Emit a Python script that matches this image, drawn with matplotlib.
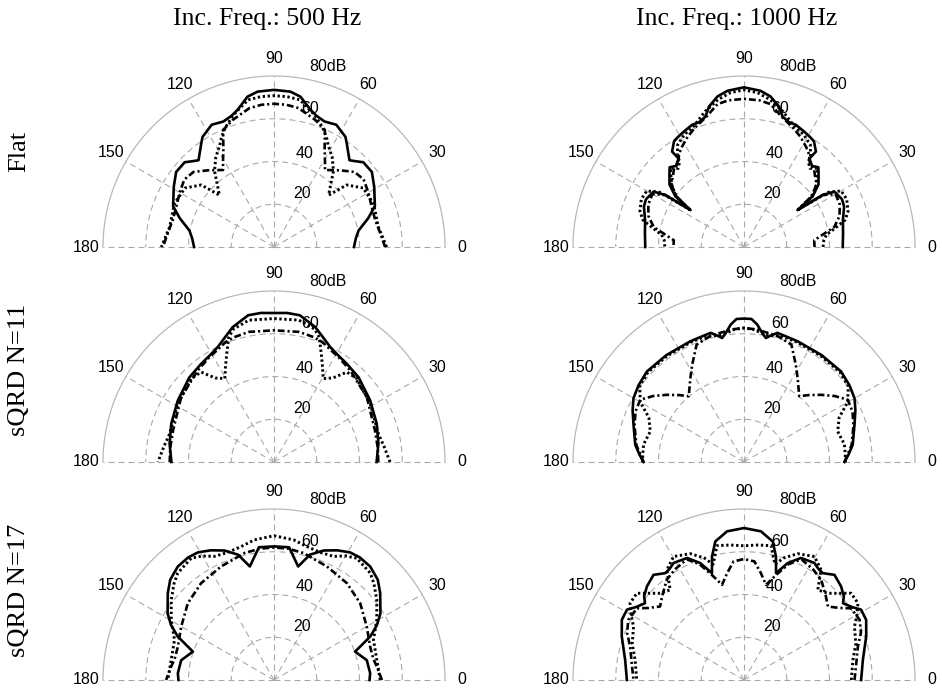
import numpy as np
import matplotlib.pyplot as plt

# Диаграммы рассеяния: угол (град) -> уровень (дБ)

col_titles = ['Inc. Freq.: 500 Hz', 'Inc. Freq.: 1000 Hz']
row_titles = ['Flat', 'sQRD N=11', 'sQRD N=17']

angle_ticks = [0, 30, 60, 90, 120, 150, 180]
ring_ticks = [20, 40, 60, 80]
ring_labels = ['20', '40', '60', '80dB']
# положения подписей колец (угол, радиус)
ring_label_pos = [(62.7, 28.3), (71.7, 46.2), (75.4, 67.0), (73.4, 88.0)]
r_max = 80

# ---- Flat, 500 Hz ----
flat_500_solid = [
    (0, 37.4), (6, 38.5), (11, 40.3), (17, 46.1), (22, 50.9), (31, 54.7),
    (37.5, 57.7), (43.5, 57.6), (47, 55), (49, 53.8), (51.5, 55.9), (55, 59.3),
    (57, 61.4), (63, 64.2), (68, 63.3), (72, 64.5), (75, 66.3), (80, 71.4),
    (84, 73.1), (90, 73.5),
    (96, 73.1), (100, 71.4), (105, 66.3), (108, 64.5), (112, 63.3), (117, 64.2),
    (123, 61.4), (125, 59.3), (128.5, 55.9), (131, 53.8), (133, 55), (136.5, 57.6),
    (142.5, 57.7), (149, 54.7), (158, 50.9), (163, 46.1), (169, 40.3), (174, 38.5),
    (180, 37.4),
]
flat_500_dot = [
    (0, 52.7), (11, 49.7), (23.5, 50.8), (33.5, 50), (40.5, 44.7), (43.5, 35.2),
    (52, 45.2), (57, 50), (62, 54), (64.5, 57), (68, 60.5), (73, 64.7), (80, 69.9),
    (85, 70.6), (90, 70.8),
    (95, 70.6), (100, 69.9), (107, 64.7), (112, 60.5), (115.5, 57), (118, 54),
    (123, 50), (128, 45.2), (136.5, 35.2), (139.5, 44.7), (146.5, 50),
    (156.5, 50.8), (169, 49.7), (180, 52.7),
]
flat_500_dashdot = [
    (0, 52), (8, 50), (15, 49), (23, 49.5), (30, 51), (37, 52.5), (43, 51.5),
    (49, 47.5), (56.5, 43.2), (59.5, 47), (62.5, 51.3), (66.5, 59.7), (72, 62.5),
    (80, 66), (85, 66.8), (90, 67),
    (95, 66.8), (100, 66), (108, 62.5), (113.5, 59.7), (117.5, 51.3), (120.5, 47),
    (123.5, 43.2), (131, 47.5), (137, 51.5), (143, 52.5), (150, 51), (157, 49.5),
    (165, 49), (172, 50), (180, 52),
]

# ---- Flat, 1000 Hz ----
flat_1000_solid = [
    (0, 46.2), (8, 46.8), (15, 47.9), (22, 50.5), (26, 51), (31.5, 49.6),
    (33.5, 44), (34.6, 30.5), (36.5, 40), (40, 45.5), (44, 48.5), (47, 51),
    (50, 49.5), (53.5, 51.5), (53, 55.9), (56.5, 59.3), (59, 60), (62.5, 60.9),
    (67, 62.1), (70, 62), (73.5, 63.6), (76, 67.7), (80, 71.5), (84, 73.5),
    (90, 74.7),
    (96, 73.5), (100, 71.5), (104, 67.7), (106.5, 63.6), (110, 62), (113, 62.1),
    (117.5, 60.9), (121, 60), (123.5, 59.3), (127, 55.9), (126.5, 51.5),
    (130, 49.5), (133, 51), (136, 48.5), (140, 45.5), (143.5, 40), (145.4, 30.5),
    (146.5, 44), (148.5, 49.6), (154, 51), (158, 50.5), (165, 47.9),
    (172, 46.8), (180, 46.2),
]
flat_1000_dot = [
    (0, 37), (5, 37.5), (8.5, 39), (12, 44), (15, 49), (19, 51.5), (25, 53),
    (30, 52.5), (33, 47), (34.6, 31), (36.5, 39), (40, 44), (44, 47.5),
    (47, 50.5), (50, 48), (53, 50), (54, 53), (57, 57), (62, 59.5), (67, 61),
    (74, 66), (80, 70), (85, 72.5), (90, 73.5),
    (95, 72.5), (100, 70), (106, 66), (113, 61), (118, 59.5), (123, 57),
    (126, 53), (127, 50), (130, 48), (133, 50.5), (136, 47.5), (140, 44),
    (143.5, 39), (145.4, 31), (147, 47), (150, 52.5), (155, 53), (161, 51.5),
    (165, 49), (168, 44), (171.5, 39), (175, 37.5), (180, 37),
]
flat_1000_dashdot = [
    (0, 33), (5.5, 33), (12.5, 43.3), (18, 47), (24, 49), (30, 49.5),
    (33.5, 44), (34.6, 30.5), (37, 40), (41, 45), (45, 47), (48, 49), (52, 50),
    (55, 53), (58, 55), (63, 58), (68, 60.5), (74, 63.5), (79.5, 68), (84, 69),
    (90, 69.3),
    (96, 69), (100.5, 68), (106, 63.5), (112, 60.5), (117, 58), (122, 55),
    (125, 53), (128, 50), (132, 49), (135, 47), (139, 45), (143, 40),
    (145.4, 30.5), (146.5, 44), (150, 49.5), (156, 49), (162, 47),
    (167.5, 43.3), (174.5, 33), (180, 33),
]

# ---- sQRD N=11, 500 Hz ----
qrd11_500_solid = [
    (0, 48), (10, 49.6), (20.5, 51.3), (32.5, 53.4), (45, 56), (53.5, 57.2),
    (60, 58.5), (64, 59.9), (69, 63), (73, 66), (80, 69.7), (85, 70), (90, 69.7),
    (95, 70), (100, 69.7), (107, 66), (111, 63), (116, 59.9), (120, 58.5),
    (126.5, 57.2), (135, 56), (147.5, 53.4), (159.5, 51.3), (170, 49.6), (180, 48),
]
qrd11_500_dot = [
    (0, 54.3), (8, 52), (15, 50.6), (31, 52.6), (45.5, 55), (51, 54.1), (55, 48),
    (59.5, 45.3), (63, 50), (66.5, 55.4), (70, 62), (73, 65), (80, 67.4),
    (90, 67.1),
    (100, 67.4), (107, 65), (110, 62), (113.5, 55.4), (117, 50), (120.5, 45.3),
    (125, 48), (129, 54.1), (134.5, 55), (149, 52.6), (165, 50.6), (172, 52),
    (180, 54.3),
]
qrd11_500_dashdot = [
    (0, 48.8), (8, 49), (17.5, 49.5), (35, 53), (50, 55.7), (58, 57.5), (64, 59),
    (68, 60.5), (72.5, 61.3), (79, 62), (90, 61.6),
    (101, 62), (107.5, 61.3), (112, 60.5), (116, 59), (122, 57.5), (130, 55.7),
    (145, 53), (162.5, 49.5), (172, 49), (180, 48.8),
]

# ---- sQRD N=11, 1000 Hz ----
qrd11_1000_solid = [
    (0, 47), (4, 49), (9, 51.5), (18.5, 54.5), (25, 57.5), (30, 59.7), (36, 61),
    (43, 62.1), (54, 61.8), (66, 61.8), (72, 62), (75.5, 62.4), (78, 60.5),
    (80, 58.9), (82, 61), (84.5, 64.6), (87, 67), (90, 67.1),
    (93, 67), (95.5, 64.6), (98, 61), (100, 58.9), (102, 60.5), (104.5, 62.4),
    (108, 62), (114, 61.8), (126, 61.8), (137, 62.1), (144, 61), (150, 59.7),
    (155, 57.5), (161.5, 54.5), (171, 51.5), (176, 49), (180, 47),
]
qrd11_1000_dot = [
    (0, 47.5), (5, 47.5), (10, 47.7), (18, 46.1), (25, 49.1), (30, 56),
    (36, 60.3), (43, 61.5), (54, 61.3), (66, 61.3), (73, 61.5), (78, 60.5),
    (82, 60.8), (86, 62.2), (90, 62.7),
    (94, 62.2), (98, 60.8), (102, 60.5), (107, 61.5), (114, 61.3), (126, 61.3),
    (137, 61.5), (144, 60.3), (150, 56), (155, 49.1), (162, 46.1), (170, 47.7),
    (175, 47.5), (180, 47.5),
]
qrd11_1000_dashdot = [
    (0, 47), (9, 51), (18.5, 54), (25, 56), (31, 56.6), (36, 52.5), (41, 47.9),
    (46, 43.5), (50, 40.2), (57.5, 46.7), (62, 51.6), (68, 59.2), (75, 61),
    (80, 61.5), (85, 62.3), (90, 62.7),
    (95, 62.3), (100, 61.5), (105, 61), (112, 59.2), (118, 51.6), (122.5, 46.7),
    (130, 40.2), (134, 43.5), (139, 47.9), (144, 52.5), (149, 56.6), (155, 56),
    (161.5, 54), (171, 51), (180, 47),
]

# ---- sQRD N=17, 500 Hz ----
qrd17_500_solid = [
    (0, 44.7), (4, 45.1), (12, 44.4), (19.3, 40.2), (24.3, 49.4), (28, 54.5),
    (32, 58.7), (39.3, 64.2), (44, 67.5), (49.7, 69.6), (55, 70), (59.2, 69.5),
    (64, 67.5), (69, 64.9), (74, 61), (78, 54.3), (83.5, 62.5), (90, 62.5),
    (96.5, 62.5), (102, 54.3), (106, 61), (111, 64.9), (116, 67.5),
    (120.8, 69.5), (125, 70), (130.3, 69.6), (136, 67.5), (140.7, 64.2),
    (148, 58.7), (152, 54.5), (155.7, 49.4), (160.7, 40.2), (168, 44.4),
    (176, 45.1), (180, 44.7),
]
qrd17_500_dot = [
    (0, 49.7), (11, 49), (22, 50.2), (30.3, 55.7), (38, 61), (44, 65), (48, 67.3),
    (55.8, 68.9), (60, 67), (64.3, 64.2), (70, 63.5), (76.2, 64.3), (82, 66.2),
    (90, 67.5),
    (98, 66.2), (103.8, 64.3), (110, 63.5), (115.7, 64.2), (120, 67),
    (124.2, 68.9), (132, 67.3), (136, 65), (142, 61), (149.7, 55.7),
    (158, 50.2), (169, 49), (180, 49.7),
]
qrd17_500_dashdot = [
    (0, 50.5), (7.5, 48.5), (12, 47.5), (19, 47.6), (30, 50.1), (41.7, 54),
    (53, 56.7), (65, 58.6), (77, 61), (84, 61.8), (90, 62),
    (96, 61.8), (103, 61), (115, 58.6), (127, 56.7), (138.3, 54), (150, 50.1),
    (161, 47.6), (168, 47.5), (172.5, 48.5), (180, 50.5),
]

# ---- sQRD N=17, 1000 Hz ----
qrd17_1000_solid = [
    (0, 54.8), (9.6, 56.4), (19.6, 60.7), (26.2, 63.7), (31, 63.9), (34, 61),
    (37.8, 58.6), (40, 61), (44, 63.1), (49.3, 64.9), (53.6, 62.1), (56, 62.5),
    (59, 63.9), (65, 63), (69.5, 58.4), (73.3, 52.2), (75.5, 59.7), (78.3, 66.2),
    (83.5, 70), (90, 71.1),
    (96.5, 70), (101.7, 66.2), (104.5, 59.7), (106.7, 52.2), (110.5, 58.4),
    (115, 63), (121, 63.9), (124, 62.5), (126.4, 62.1), (130.7, 64.9),
    (136, 63.1), (140, 61), (142.2, 58.6), (146, 61), (149, 63.9),
    (153.8, 63.7), (160.4, 60.7), (170.4, 56.4), (180, 54.8),
]
qrd17_1000_dot = [
    (0, 50.2), (10.4, 51.8), (18, 55), (25.8, 57.4), (30, 61), (34, 64.3),
    (39, 64.5), (46, 56.4), (50.7, 54.5), (55, 62.9), (60.3, 66.5), (67, 64.2),
    (72, 60), (75, 56), (77, 60), (78.6, 64.1), (84, 63.5), (90, 62.8),
    (96, 63.5), (101.4, 64.1), (103, 60), (105, 56), (108, 60), (113, 64.2),
    (119.7, 66.5), (125, 62.9), (129.3, 54.5), (134, 56.4), (141, 64.5),
    (146, 64.3), (150, 61), (154.2, 57.4), (162, 55), (169.6, 51.8), (180, 50.2),
]
qrd17_1000_dashdot = [
    (0, 51.7), (8, 53), (16.3, 55.5), (22, 59), (27.5, 61), (33.8, 60.3),
    (37, 56), (41.2, 52.2), (46, 55), (52.4, 59.2), (58, 61), (64.6, 62.5),
    (69, 58), (73, 51.4), (77, 45.7), (81, 50.6), (85, 55.7), (90, 56.6),
    (95, 55.7), (99, 50.6), (103, 45.7), (107, 51.4), (111, 58), (115.4, 62.5),
    (122, 61), (127.6, 59.2), (134, 55), (138.8, 52.2), (143, 56),
    (146.2, 60.3), (152.5, 61), (158, 59), (163.7, 55.5), (172, 53), (180, 51.7),
]

panels = [
    [(flat_500_solid, flat_500_dot, flat_500_dashdot),
     (flat_1000_solid, flat_1000_dot, flat_1000_dashdot)],
    [(qrd11_500_solid, qrd11_500_dot, qrd11_500_dashdot),
     (qrd11_1000_solid, qrd11_1000_dot, qrd11_1000_dashdot)],
    [(qrd17_500_solid, qrd17_500_dot, qrd17_500_dashdot),
     (qrd17_1000_solid, qrd17_1000_dot, qrd17_1000_dashdot)],
]

W, H = 942, 692
R_PX = 171
col_x = [274, 744]
row_y = [247, 462, 680]

GRID = '#a9a9a9'
SANS = 'Liberation Sans'
SERIF = 'Liberation Serif'


def polar_panel(fig, cx, cy):
    # для полуокружности центр оказывается на 1/4 высоты квадратной области
    left = (cx - R_PX) / W
    bottom = (H - cy - R_PX / 2) / H
    ax = fig.add_axes([left, bottom, 2 * R_PX / W, 2 * R_PX / H],
                      projection='polar')
    ax.set_thetamin(0)
    ax.set_thetamax(180)
    ax.axis('off')

    th = np.linspace(0, np.pi, 300)
    for r in ring_ticks[:-1]:
        ax.plot(th, np.full_like(th, r), color=GRID, lw=0.8,
                ls=(0, (5.4, 3.6)), clip_on=False)
    ax.plot(th, np.full_like(th, r_max), color='#b8b8b8', lw=0.9, clip_on=False)
    for a in angle_ticks:
        ax.plot([np.deg2rad(a)] * 2, [0, r_max], color=GRID, lw=0.8,
                ls=(0, (5.4, 3.6)), clip_on=False)

    for a in angle_ticks:
        ax.text(np.deg2rad(a), 88, str(a), ha='center', va='center',
                fontsize=11.5, family=SANS)
    for (a, r), lab in zip(ring_label_pos, ring_labels):
        ax.text(np.deg2rad(a), r, lab, ha='center', va='center',
                fontsize=11.5, family=SANS)
    return ax


def draw_curves(ax, curves):
    styles = [
        dict(ls='-', lw=1.9),
        dict(ls=(0, (0.8, 0.9)), lw=2.1),
        dict(ls=(0, (2.6, 1.1, 0.8, 1.1)), lw=1.9),
    ]
    for pts, st in zip(curves, styles):
        deg, db = np.array(pts).T
        ax.plot(np.deg2rad(deg), db, color='black', clip_on=False, **st)
    ax.set_rlim(0, r_max)


def main():
    fig = plt.figure(figsize=(W / 100, H / 100), dpi=100)

    for i, row in enumerate(panels):
        for j, curves in enumerate(row):
            ax = polar_panel(fig, col_x[j], row_y[i])
            draw_curves(ax, curves)

    title_x = [267.5, 737]
    for x, t in zip(title_x, col_titles):
        fig.text(x / W, 1 - 25 / H, t, ha='center', va='baseline',
                 fontsize=18.5, family=SERIF)

    label_y = [151, 370, 590]
    for y, t in zip(label_y, row_titles):
        fig.text(19 / W, 1 - y / H, t, rotation=90, ha='center', va='center',
                 fontsize=19, family=SERIF)

    fig.savefig('out.png', dpi=100)


if __name__ == "__main__":
    main()
